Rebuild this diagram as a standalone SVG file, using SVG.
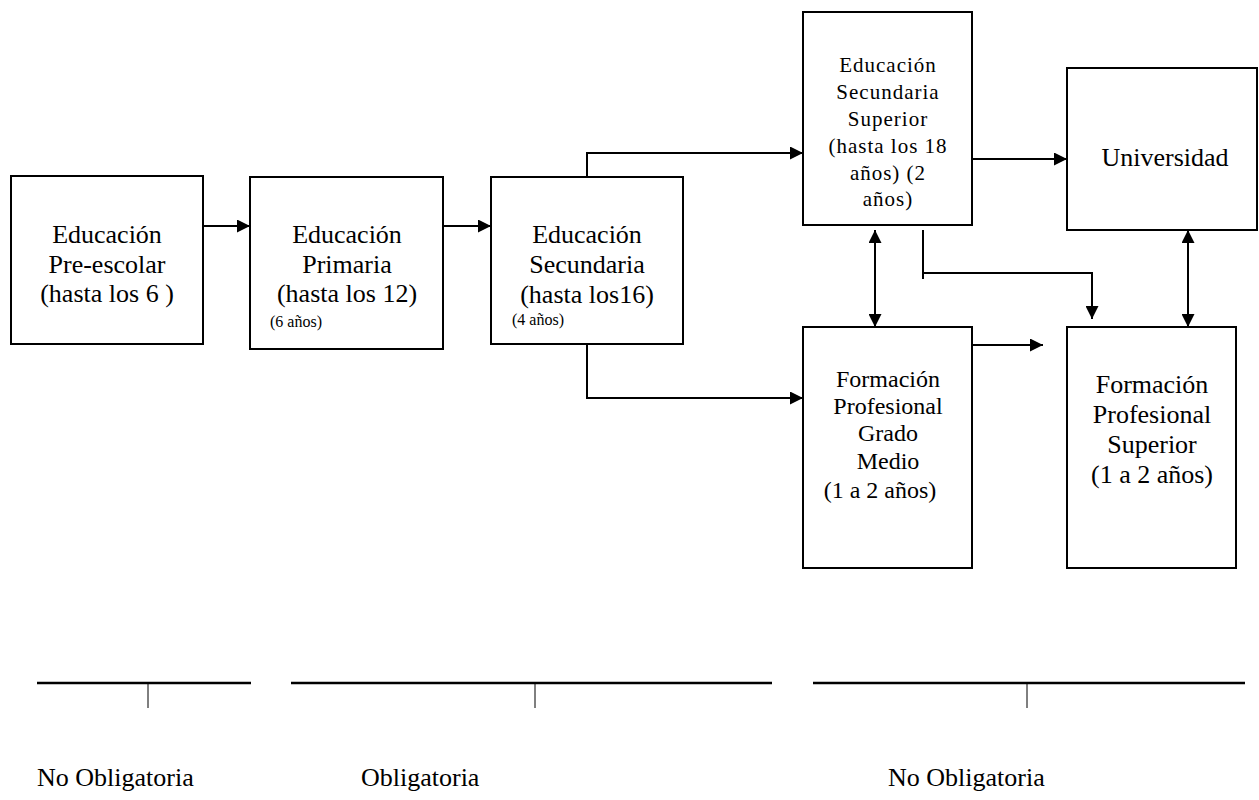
<svg xmlns="http://www.w3.org/2000/svg" width="1259" height="800" viewBox="0 0 1259 800">
<style>
  .box { fill: #fff; stroke: #000; stroke-width: 2; }
  .t { font-family: "Liberation Serif", "Times New Roman", serif; fill: #000; text-anchor: middle; }
  .l26 { font-size: 26px; }
  .l24 { font-size: 24px; }
  .l22 { font-size: 21px; letter-spacing: 1px; }
  .small { font-family: "Liberation Serif", "Times New Roman", serif; font-size: 16px; fill: #000; }
  .bottom { font-family: "Liberation Serif", "Times New Roman", serif; font-size: 26px; fill: #000; }
  .conn { fill: none; stroke: #000; stroke-width: 2; }
  .bar { stroke: #000; stroke-width: 2.5; }
  .tick { stroke: #000; stroke-width: 1; }
</style>
<defs>
  <marker id="arr" viewBox="0 0 13 13" refX="13" refY="6.5" markerWidth="13" markerHeight="13" markerUnits="userSpaceOnUse" orient="auto-start-reverse">
    <path d="M0,0 L13,6.5 L0,13 z" fill="#000"/>
  </marker>
</defs>
<rect width="1259" height="800" fill="#fff"/>

<g id="connectors">
  <line class="conn" x1="203" y1="226" x2="250" y2="226" marker-end="url(#arr)"/>
  <line class="conn" x1="443" y1="226" x2="491" y2="226" marker-end="url(#arr)"/>
  <polyline class="conn" points="587,177 587,153 803,153" marker-end="url(#arr)"/>
  <polyline class="conn" points="587,344 587,398 803,398" marker-end="url(#arr)"/>
  <line class="conn" x1="972" y1="159" x2="1067" y2="159" marker-end="url(#arr)"/>
  <line class="conn" x1="875" y1="230" x2="875" y2="327" marker-start="url(#arr)" marker-end="url(#arr)"/>
  <line class="conn" x1="923" y1="230" x2="923" y2="279"/>
  <polyline class="conn" points="923,273 1092,273 1092,319" marker-end="url(#arr)"/>
  <line class="conn" x1="1188" y1="230" x2="1188" y2="327" marker-start="url(#arr)" marker-end="url(#arr)"/>
  <line class="conn" x1="972" y1="345" x2="1043" y2="345" marker-end="url(#arr)"/>
</g>

<g id="preescolar">
  <rect class="box" x="11" y="176" width="192" height="168"/>
  <text class="t l26" x="107" y="243">Educación</text>
  <text class="t l26" x="107" y="273">Pre-escolar</text>
  <text class="t l26" x="107" y="302">(hasta los 6 )</text>
</g>

<g id="primaria">
  <rect class="box" x="250" y="177" width="193" height="172"/>
  <text class="t l26" x="347" y="243">Educación</text>
  <text class="t l26" x="347" y="273">Primaria</text>
  <text class="t l26" x="347" y="302">(hasta los 12)</text>
  <text class="small" x="270" y="327">(6 años)</text>
</g>

<g id="secundaria">
  <rect class="box" x="491" y="177" width="192" height="167"/>
  <text class="t l26" x="587" y="243">Educación</text>
  <text class="t l26" x="587" y="273">Secundaria</text>
  <text class="t l26" x="587" y="303">(hasta los16)</text>
  <text class="small" x="512" y="325">(4 años)</text>
</g>

<g id="secundaria-superior">
  <rect class="box" x="803" y="12" width="169" height="213"/>
  <text class="t l22" x="888" y="72">Educación</text>
  <text class="t l22" x="888" y="99">Secundaria</text>
  <text class="t l22" x="888" y="126">Superior</text>
  <text class="t l22" x="888" y="153">(hasta los 18</text>
  <text class="t l22" x="888" y="180">años) (2</text>
  <text class="t l22" x="888" y="206">años)</text>
</g>

<g id="universidad">
  <rect class="box" x="1067" y="68" width="190" height="162"/>
  <text class="t l26" x="1165" y="166">Universidad</text>
</g>

<g id="fp-medio">
  <rect class="box" x="803" y="327" width="169" height="241"/>
  <text class="t l24" x="888" y="387">Formación</text>
  <text class="t l24" x="888" y="414">Profesional</text>
  <text class="t l24" x="888" y="441">Grado</text>
  <text class="t l24" x="888" y="469">Medio</text>
  <text class="t l24" x="880" y="498">(1 a 2 años)</text>
</g>

<g id="fp-superior">
  <rect class="box" x="1067" y="327" width="169" height="241"/>
  <text class="t l26" x="1152" y="393">Formación</text>
  <text class="t l26" x="1152" y="423">Profesional</text>
  <text class="t l26" x="1152" y="453">Superior</text>
  <text class="t l26" x="1152" y="483">(1 a 2 años)</text>
</g>

<g id="no-obligatoria-1">
  <line class="bar" x1="37" y1="683" x2="251" y2="683"/>
  <line class="tick" x1="148" y1="683" x2="148" y2="708"/>
  <text class="bottom" x="37" y="786">No Obligatoria</text>
</g>

<g id="obligatoria">
  <line class="bar" x1="291" y1="683" x2="772" y2="683"/>
  <line class="tick" x1="535" y1="683" x2="535" y2="708"/>
  <text class="bottom" x="361" y="786">Obligatoria</text>
</g>

<g id="no-obligatoria-2">
  <line class="bar" x1="813" y1="683" x2="1245" y2="683"/>
  <line class="tick" x1="1027" y1="683" x2="1027" y2="708"/>
  <text class="bottom" x="888" y="786">No Obligatoria</text>
</g>
</svg>
